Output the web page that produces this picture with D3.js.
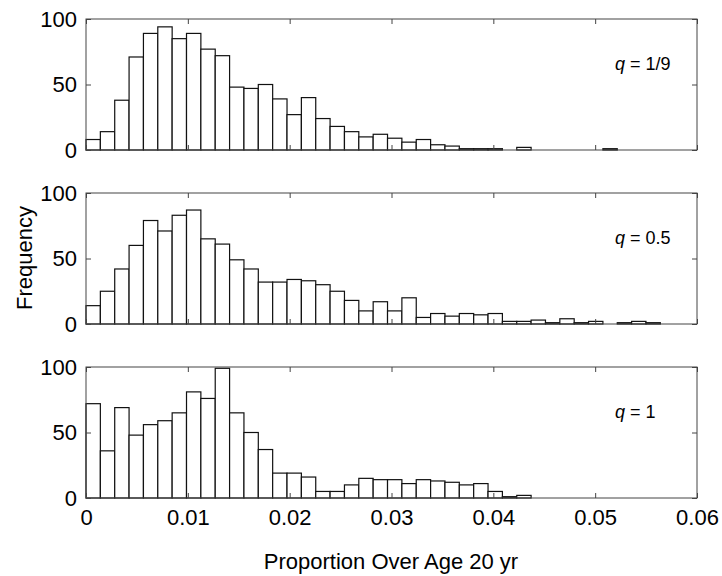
<!DOCTYPE html>
<html>
<head>
<meta charset="utf-8">
<script src="https://cdn.jsdelivr.net/npm/d3@7"></script>
<style>
  body { margin: 0; background: #fff; }
  svg { font-family: "Liberation Sans", Arial, sans-serif; }
</style>
</head>
<body>
<svg width="722" height="576"></svg>
<script>
// bin width of the histograms (proportion units)
var binWidth = 0.00141;

// frequencies per bin, first bin starts at 0
var freqQ19 = [8, 14, 38, 71, 89, 94, 85, 89, 77, 72, 48, 47, 50, 39, 27, 40, 24, 18, 14, 10,
               12, 9, 6, 8, 4, 3, 1, 1, 1, 0, 2, 0, 0, 0, 0, 0, 1];
var freqQ05 = [14, 25, 42, 60, 79, 71, 83, 87, 65, 61, 49, 42, 32, 32, 34, 33, 30, 25, 18, 10,
               17, 10, 20, 5, 8, 6, 8, 7, 8, 2, 2, 3, 1, 4, 1, 2, 0, 1, 2, 1];
var freqQ1  = [72, 36, 69, 48, 56, 59, 65, 81, 76, 99, 65, 50, 37, 19, 19, 16, 5, 5, 10, 15,
               14, 14, 11, 14, 13, 12, 10, 11, 5, 1, 2];

var panelLabels = ["1/9", "0.5", "1"];
var panelData = [freqQ19, freqQ05, freqQ1];

var xTicks = [0, 0.01, 0.02, 0.03, 0.04, 0.05, 0.06];
var yTicks = [0, 50, 100];

var svg = d3.select("svg");

var left = 86, right = 697;
var panelTops = [19, 193, 367];
var panelH = 131;

var x = d3.scaleLinear().domain([0, 0.06]).range([left, right]);

panelData.forEach(function(freq, p) {
  var top = panelTops[p];
  var y = d3.scaleLinear().domain([0, 100]).range([top + panelH, top]);

  var g = svg.append("g").attr("class", "panel");

  // BARS
  g.selectAll("rect")
    .data(freq)
    .enter().append("rect")
      .attr("x", function(d, i) { return x(i * binWidth); })
      .attr("width", function(d, i) { return x((i + 1) * binWidth) - x(i * binWidth); })
      .attr("y", function(d) { return y(d); })
      .attr("height", function(d) { return y(0) - y(d); })
      .attr("fill", "#fff")
      .attr("stroke", "#111")
      .attr("stroke-width", 1.2);

  // FRAME
  g.append("rect")
    .attr("x", left).attr("y", top)
    .attr("width", right - left).attr("height", panelH)
    .attr("fill", "none")
    .attr("stroke", "#444")
    .attr("stroke-width", 1);

  // AXES (ticks pointing inward)
  var yAxis = d3.axisLeft(y).tickValues(yTicks).tickSizeInner(-5).tickSizeOuter(0).tickPadding(9);
  var yAxisR = d3.axisRight(y).tickValues(yTicks).tickSizeInner(-5).tickSizeOuter(0).tickFormat("");
  var xAxisB = d3.axisBottom(x).tickValues(xTicks).tickSizeInner(-5).tickSizeOuter(0).tickPadding(11)
      .tickFormat(p === 2 ? function(d) { return d === 0 ? "0" : d3.format(".2f")(d); } : "");
  var xAxisT = d3.axisTop(x).tickValues(xTicks).tickSizeInner(-5).tickSizeOuter(0).tickFormat("");

  var ya = g.append("g").attr("transform", "translate(" + left + ",0)").call(yAxis);
  g.append("g").attr("transform", "translate(" + right + ",0)").call(yAxisR);
  var xa = g.append("g").attr("transform", "translate(0," + (top + panelH) + ")").call(xAxisB);
  g.append("g").attr("transform", "translate(0," + top + ")").call(xAxisT);

  g.selectAll(".domain").remove();
  g.selectAll(".tick line").attr("stroke", "#444");
  g.selectAll(".tick text")
    .attr("font-family", "Liberation Sans, Arial, sans-serif")
    .attr("font-size", 22)
    .attr("fill", "#000");

  // ANNOTATION
  var t = g.append("text")
    .attr("x", 615)
    .attr("y", top + 51)
    .attr("font-size", 18)
    .attr("fill", "#000");
  t.append("tspan").attr("font-style", "italic").text("q");
  t.append("tspan").text(" = " + panelLabels[p]);
});

// AXIS TITLES
svg.append("text")
  .attr("x", 391)
  .attr("y", 569)
  .attr("text-anchor", "middle")
  .attr("font-size", 22)
  .text("Proportion Over Age 20 yr");

svg.append("text")
  .attr("transform", "translate(32,258) rotate(-90)")
  .attr("text-anchor", "middle")
  .attr("font-size", 22)
  .text("Frequency");
</script>
</body>
</html>
